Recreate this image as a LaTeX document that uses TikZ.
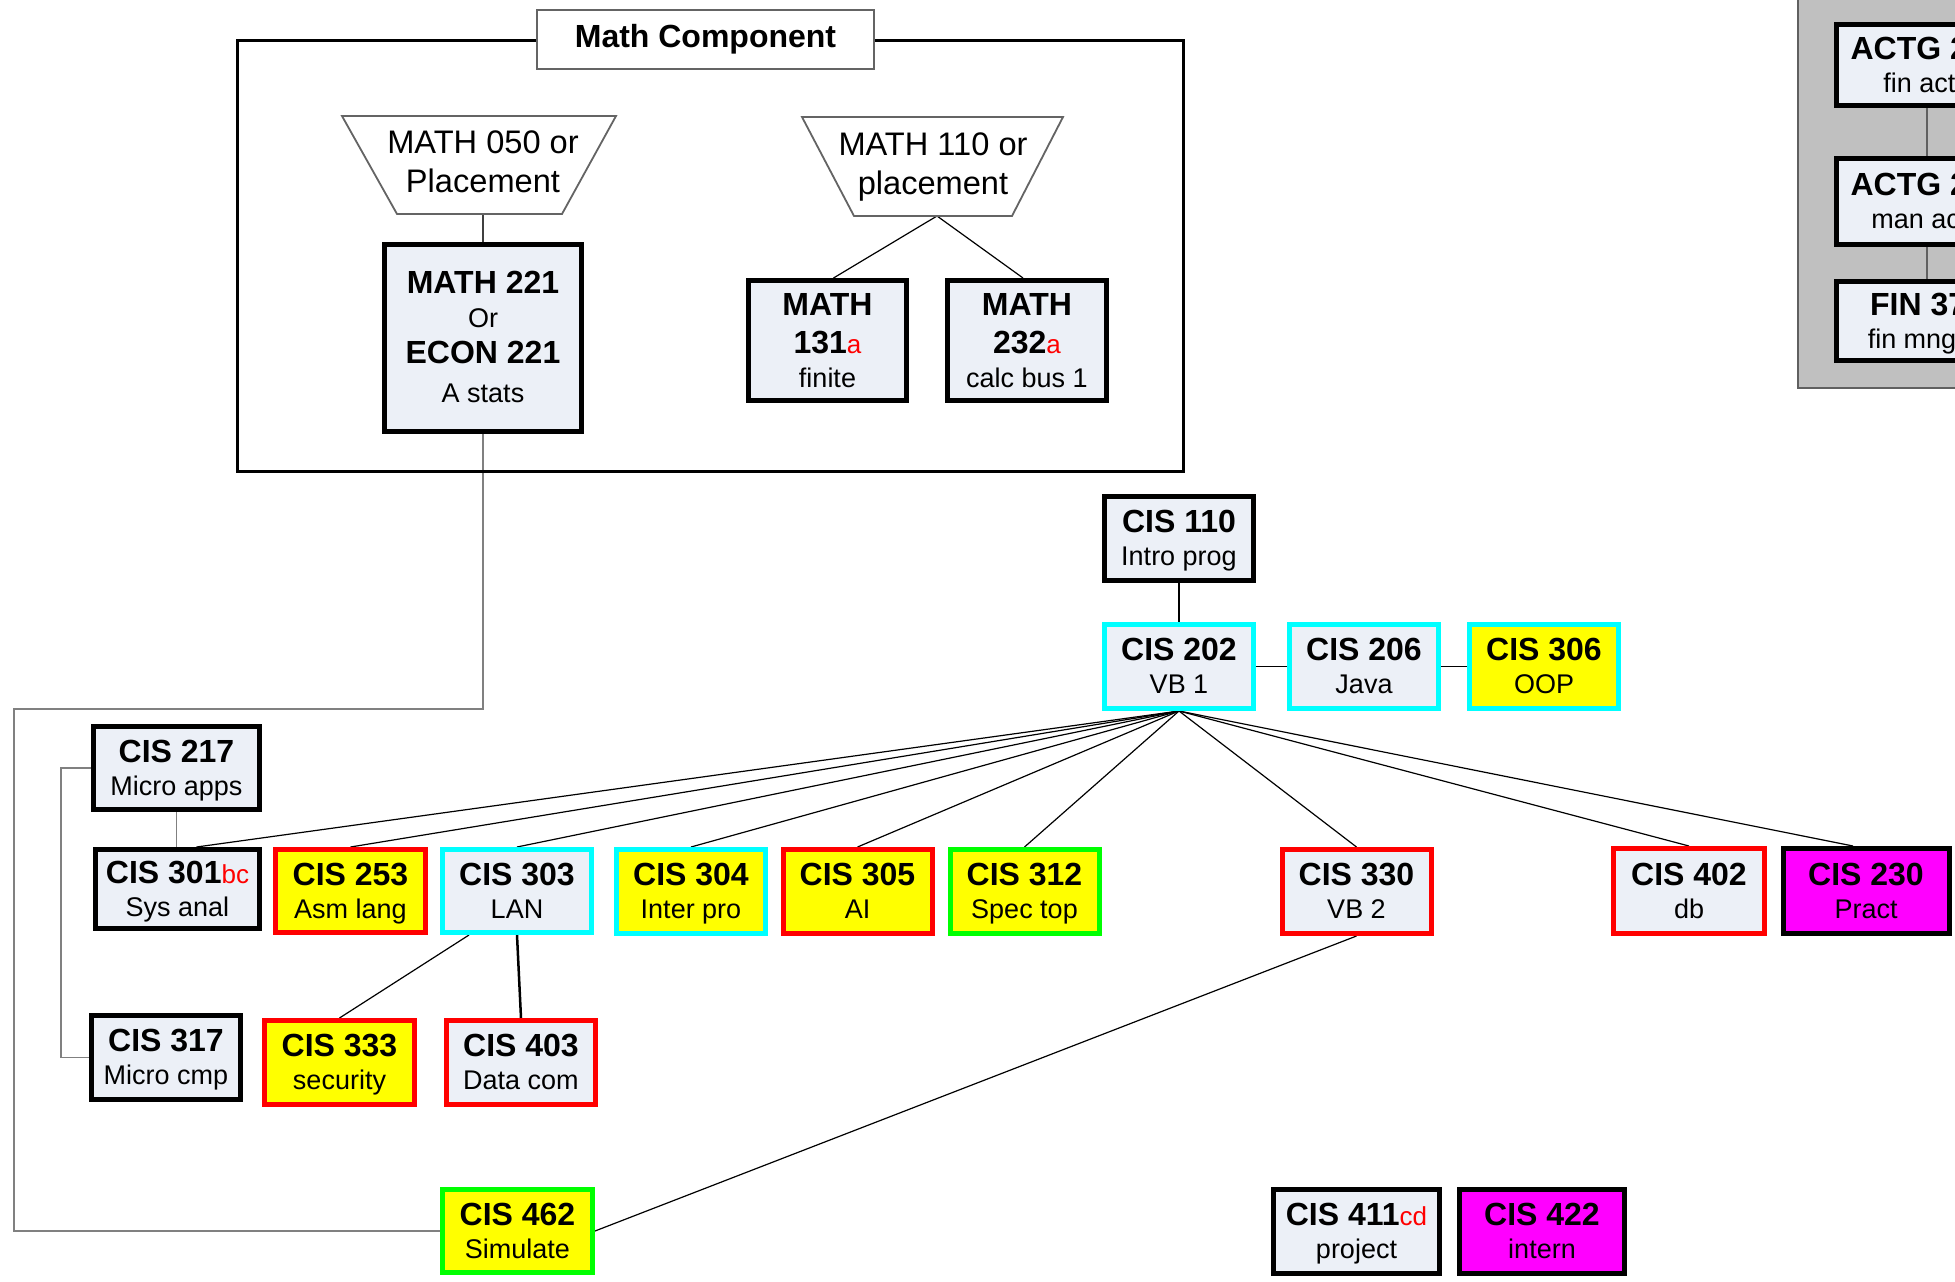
\documentclass[tikz,border=0pt]{standalone}
\usepackage{fontspec}
\setmainfont{Liberation Sans}
\usetikzlibrary{calc,backgrounds}
\definecolor{boxfill}{RGB}{236,240,247}
\definecolor{cyanb}{RGB}{0,255,255}
\definecolor{yel}{RGB}{255,255,0}
\definecolor{mag}{RGB}{255,0,255}
\definecolor{grn}{RGB}{0,255,0}
\definecolor{redb}{RGB}{255,0,0}
\definecolor{panelgray}{RGB}{192,192,192}
\definecolor{panelline}{RGB}{96,96,96}
\definecolor{frameline}{RGB}{100,100,100}
\definecolor{linkgray}{RGB}{128,128,128}
\newcommand\bsz{\bfseries\fontsize{32}{33}\selectfont}
\newcommand\redsup[1]{{\color{redb}\mdseries\fontsize{26}{33}\selectfont #1}}
\newcommand\crs[2]{\rule{0pt}{28pt}{\bsz #1}\\#2\rule[-7pt]{0pt}{7pt}}
\begin{document}
\begin{tikzpicture}[x=1pt,y=-1pt,
  course/.style={draw=black, line width=5pt, fill=boxfill, inner sep=0pt, align=center,
    minimum width=149pt, minimum height=84pt, font=\fontsize{27}{33}\selectfont},
  cy/.style={draw=cyanb},
  rd/.style={draw=redb},
  gr/.style={draw=grn},
  yf/.style={fill=yel},
  mf/.style={fill=mag},
  link/.style={draw=black, line width=1.2pt},
  glink/.style={draw=linkgray, line width=1.5pt},
  trap/.style={draw=frameline, line width=1.8pt, fill=white},
  traptext/.style={inner sep=0pt, align=center, font=\fontsize{32.6}{39}\selectfont}
]
\clip (0,0) rectangle (1955,1282);
\useasboundingbox (0,0) rectangle (1955,1282);

% Math component frame
\draw[line width=3pt] (237,40) rectangle (1183,471);
\node[draw=frameline, line width=2pt, fill=white, minimum width=337pt, minimum height=59pt,
  inner sep=0pt, font=\bfseries\fontsize{32}{36}\selectfont] (title) at (705.5,39.5) {Math Component};

% trapezoids
\draw[trap] (342,116) -- (616,116) -- (562,214) -- (397,214) -- cycle;
\node[traptext] (t1) at (483,164) {\rule{0pt}{24pt}MATH 050 or\\Placement\rule[-7pt]{0pt}{7pt}};
\draw[trap] (802,117) -- (1063,117) -- (1012,216) -- (854,216) -- cycle;
\node[traptext] (t2) at (933,166) {\rule{0pt}{24pt}MATH 110 or\\placement\rule[-7pt]{0pt}{7pt}};
\coordinate (t1b) at (483,214);
\coordinate (t2b) at (937,216);

% math boxes
\node[course, minimum width=197pt, minimum height=187pt] (m221) at (483,338)
  {\rule{0pt}{26pt}{\bsz MATH 221}\\[1pt]Or\\[3pt]{\bsz ECON 221}\\[6pt]A stats\rule[-7pt]{0pt}{7pt}};
\node[course, minimum width=158pt, minimum height=120pt] (m131) at (827.5,340.5)
  {\rule{0pt}{28pt}{\bsz MATH}\\[5pt]{\bsz 131\redsup{a}}\\[1pt]finite\rule[-7pt]{0pt}{7pt}};
\node[course, minimum width=159pt, minimum height=120pt] (m232) at (1027,340.5)
  {\rule{0pt}{28pt}{\bsz MATH}\\[5pt]{\bsz 232\redsup{a}}\\[1pt]calc bus 1\rule[-7pt]{0pt}{7pt}};

% accounting panel boxes
\node[course, minimum width=181pt, minimum height=81pt] (a1) at (1927,65) {\crs{ACTG 201}{fin actg}};
\node[course, minimum width=181pt, minimum height=86pt] (a2) at (1927,201.5) {\crs{ACTG 202}{man actg}};
\node[course, minimum width=181pt, minimum height=79pt] (a3) at (1927,321) {\crs{FIN 370}{fin mngmt}};

% CIS courses
\node[course] (c110) at (1179,538.5) {\crs{CIS 110}{Intro prog}};
\node[course,cy] (c202) at (1179,666.5) {\crs{CIS 202}{VB 1}};
\node[course,cy] (c206) at (1364,666.5) {\crs{CIS 206}{Java}};
\node[course,cy,yf] (c306) at (1544,666.5) {\crs{CIS 306}{OOP}};

\node[course, minimum width=166pt, minimum height=83pt] (c217) at (176.5,768) {\crs{CIS 217}{Micro apps}};
\node[course, minimum width=164pt, minimum height=79pt] (c301) at (177.5,889) {\crs{CIS 301\redsup{bc}}{Sys anal}};
\node[course,rd,yf, minimum width=150pt, minimum height=83pt] (c253) at (350.5,891) {\crs{CIS 253}{Asm lang}};
\node[course,cy, minimum height=83pt] (c303) at (517,891) {\crs{CIS 303}{LAN}};
\node[course,cy,yf] (c304) at (691,891.5) {\crs{CIS 304}{Inter pro}};
\node[course,rd,yf] (c305) at (857.5,891.5) {\crs{CIS 305}{AI}};
\node[course,gr,yf] (c312) at (1024.5,891.5) {\crs{CIS 312}{Spec top}};
\node[course,rd] (c330) at (1356.5,891.5) {\crs{CIS 330}{VB 2}};
\node[course,rd, minimum width=151pt, minimum height=85pt] (c402) at (1689,891) {\crs{CIS 402}{db}};
\node[course,mf, minimum width=166pt, minimum height=85pt] (c230) at (1866,891) {\crs{CIS 230}{Pract}};

\node[course] (c317) at (166,1057.5) {\crs{CIS 317}{Micro cmp}};
\node[course,rd,yf, minimum width=150pt] (c333) at (339.5,1062.5) {\crs{CIS 333}{security}};
\node[course,rd] (c403) at (521,1062.5) {\crs{CIS 403}{Data com}};

\node[course,gr,yf, minimum width=150pt, minimum height=83pt] (c462) at (517.5,1231) {\crs{CIS 462}{Simulate}};
\node[course, minimum width=166pt] (c411) at (1356.5,1231.5) {\crs{CIS 411\redsup{cd}}{project}};
\node[course,mf, minimum width=165pt] (c422) at (1542,1231.5) {\crs{CIS 422}{intern}};

\coordinate (g1) at (14,709);

\begin{scope}[on background layer]
  \fill[panelgray] (1798,-10) rectangle (2100,388);
  \draw[panelline, line width=1.5pt] (1798,-10) rectangle (2100,388);
  \draw[draw=panelline, line width=1.5pt] (a1) -- (a2) -- (a3);

  \draw[draw=black!75, line width=1.3pt] (t1b) -- (m221.north);
  \draw[link] (t2b) -- ($(m131.north)+(6,0)$);
  \draw[link] (t2b) -- ($(m232.north)+(-4,0)$);

  \draw[glink] (m221.south) |- (g1) |- (c462.west);
  \draw[glink] (c217.west) -- ++(-30,0) |- (c317.west);
  \draw[glink] (c217.south) -- (c217.south |- c301.north);

  \draw[link] (c110) -- (c202);
  \draw[link] (c202) -- (c206) -- (c306);

  \draw[link] (c202.south) -- ($(c301.north)+(19,0)$);
  \foreach \t in {c253,c303,c304,c305,c312,c330,c402}
    \draw[link] (c202.south) -- (\t.north);
  \draw[link] (c202.south) -- ($(c230.north)+(-13,0)$);

  \draw[link] ($(c303.south west)+(29,0)$) -- (c333.north);
  \draw[draw=black, line width=2.5pt] (c303.south) -- (c403.north);
  \draw[link] (c330.south) -- (c462.east);
\end{scope}
\end{tikzpicture}
\end{document}
